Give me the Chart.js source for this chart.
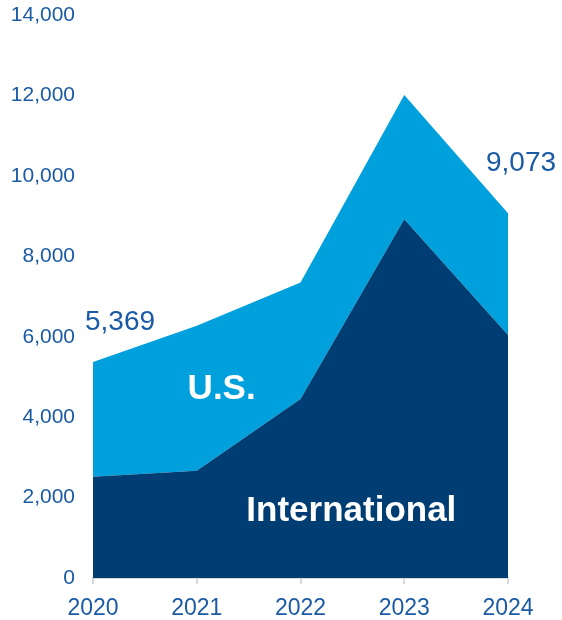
<!DOCTYPE html>
<html>
<head>
<meta charset="utf-8">
<script src="https://cdn.jsdelivr.net/npm/chart.js@4"></script>
<style>
  html, body { margin: 0; padding: 0; background: #fff; }
  #wrap { width: 562px; height: 620px; }
</style>
</head>
<body>
<div id="wrap"><canvas id="chart"></canvas></div>
<script>
const years = ['2020', '2021', '2022', '2023', '2024'];
const international = [2520, 2670, 4450, 8920, 6040];
const usValues = [2849, 3600, 2900, 3090, 3033];
const yTicks = [0, 2000, 4000, 6000, 8000, 10000, 12000, 14000];

const navy = '#003d73';
const lightBlue = '#00a0dc';
const textBlue = '#1b5aa5';
const axisGray = '#d9d9d9';

// totals written above the first and last year
const totalLabels = [
    { index: 0, dx: 27, dy: -40 },
    { index: 4, dx: 13, dy: -50 }
];
// series names drawn inside the areas (x as category index, y as value)
const seriesNames = [
    { text: 'U.S.', x: 1.24, y: 4700 },
    { text: 'International', x: 2.49, y: 1650 }
];

const areaLabels = {
    id: 'areaLabels',
    afterDatasetsDraw(chart) {
        const ctx = chart.ctx;
        const xs = chart.scales.x;
        const ys = chart.scales.y;
        const top = chart.getDatasetMeta(1);
        ctx.save();
        ctx.textAlign = 'center';
        ctx.textBaseline = 'middle';

        ctx.fillStyle = textBlue;
        ctx.font = '28px "Liberation Sans", Arial, sans-serif';
        totalLabels.forEach(t => {
            const pt = top.data[t.index];
            const total = international[t.index] + usValues[t.index];
            ctx.fillText(total.toLocaleString('en-US'), pt.x + t.dx, pt.y + t.dy);
        });

        ctx.fillStyle = '#ffffff';
        ctx.font = 'bold 35px "Liberation Sans", Arial, sans-serif';
        seriesNames.forEach(s => {
            ctx.fillText(s.text, xs.getPixelForValue(s.x), ys.getPixelForValue(s.y));
        });
        ctx.restore();
    }
};

new Chart(document.getElementById('chart'), {
    type: 'line',
    data: {
        labels: years,
        datasets: [
            {
                label: 'International',
                data: international,
                backgroundColor: navy,
                borderWidth: 0,
                pointRadius: 0,
                tension: 0,
                fill: 'origin'
            },
            {
                label: 'U.S.',
                data: usValues,
                backgroundColor: lightBlue,
                borderWidth: 0,
                pointRadius: 0,
                tension: 0,
                fill: '-1'
            }
        ]
    },
    options: {
        responsive: true,
        maintainAspectRatio: false,
        animation: false,
        layout: { padding: { left: 0, right: 54, top: 0, bottom: 0 } },
        plugins: {
            legend: { display: false },
            tooltip: { enabled: false }
        },
        scales: {
            x: {
                offset: false,
                grid: {
                    drawOnChartArea: false,
                    drawTicks: true,
                    tickLength: 6,
                    color: axisGray,
                    lineWidth: 2
                },
                border: { color: axisGray, width: 2 },
                ticks: {
                    color: textBlue,
                    padding: 11,
                    font: { family: '"Liberation Sans", Arial, sans-serif', size: 23 }
                },
                afterFit(scale) { scale.height = 42; }
            },
            y: {
                stacked: true,
                min: 0,
                max: 14000,
                grid: { display: false, drawTicks: false },
                border: { display: false },
                afterBuildTicks(scale) {
                    scale.ticks = yTicks.map(v => ({ value: v }));
                },
                ticks: {
                    color: textBlue,
                    padding: 18,
                    font: { family: '"Liberation Sans", Arial, sans-serif', size: 21 },
                    callback: v => v.toLocaleString('en-US')
                },
                afterFit(scale) {
                    scale.width = 93;
                    // keep the top label's half height only, not the tick padding
                    scale.paddingTop = 15;
                    scale.paddingBottom = 12;
                }
            }
        }
    },
    plugins: [areaLabels]
});
</script>
</body>
</html>
